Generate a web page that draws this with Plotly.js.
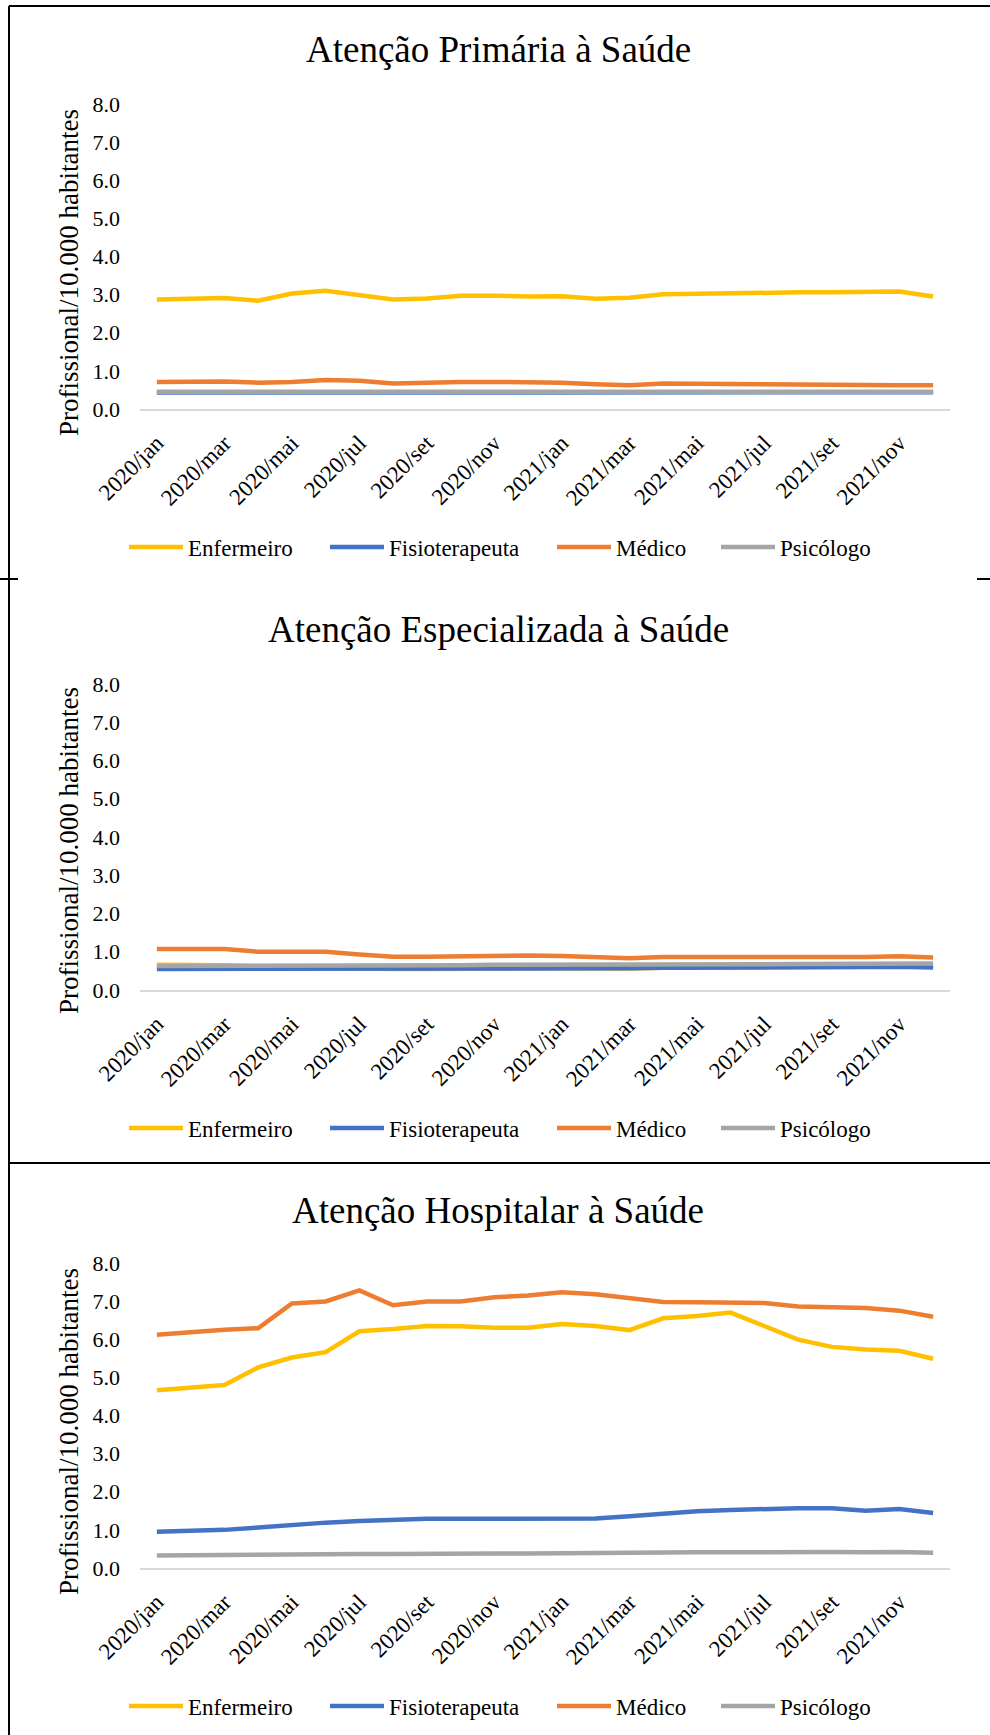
<!DOCTYPE html>
<html>
<head>
<meta charset="utf-8">
<script src="https://cdn.plot.ly/plotly-3.0.1.min.js"></script>
<style>
  html, body { margin: 0; padding: 0; background: #fff; }
  #chart { width: 990px; height: 1735px; }
</style>
</head>
<body>
<div id="chart"></div>
<script>
// ---- Data ----
const months = [
  "2020/jan","2020/fev","2020/mar","2020/abr","2020/mai","2020/jun",
  "2020/jul","2020/ago","2020/set","2020/out","2020/nov","2020/dez",
  "2021/jan","2021/fev","2021/mar","2021/abr","2021/mai","2021/jun",
  "2021/jul","2021/ago","2021/set","2021/out","2021/nov","2021/dez"
];
const tickLabels = ["2020/jan","2020/mar","2020/mai","2020/jul","2020/set","2020/nov",
                    "2021/jan","2021/mar","2021/mai","2021/jul","2021/set","2021/nov"];
const seriesNames = ["Enfermeiro", "Fisioterapeuta", "Médico", "Psicólogo"];
const seriesColors = ["#FFC000", "#4472C4", "#ED7D31", "#A5A5A5"];
const panelTitles = ["Atenção Primária à Saúde", "Atenção Especializada à Saúde", "Atenção Hospitalar à Saúde"];
const yAxisTitle = "Profissional/10.000 habitantes";

// Atenção Primária
const primEnfermeiro = [2.87,2.89,2.91,2.84,3.03,3.10,2.99,2.87,2.90,2.97,2.97,2.95,
                        2.96,2.89,2.92,3.01,3.02,3.04,3.04,3.06,3.06,3.07,3.08,2.95];
const primFisioterapeuta = [0.43,0.43,0.44,0.43,0.43,0.43,0.43,0.43,0.44,0.44,0.44,0.43,
                            0.42,0.42,0.42,0.43,0.43,0.43,0.44,0.44,0.44,0.43,0.44,0.44];
const primMedico = [0.71,0.72,0.72,0.69,0.71,0.76,0.74,0.67,0.70,0.71,0.71,0.70,
                    0.69,0.65,0.62,0.67,0.66,0.65,0.65,0.65,0.64,0.63,0.62,0.62];
const primPsicologo = [0.45,0.45,0.46,0.45,0.45,0.45,0.45,0.45,0.46,0.46,0.46,0.45,
                       0.44,0.44,0.44,0.45,0.45,0.45,0.46,0.46,0.46,0.45,0.46,0.45];

// Atenção Especializada
const espEnfermeiro = [0.66,0.66,0.65,0.62,0.60,0.59,0.57,0.55,0.55,0.56,0.57,0.57,
                       0.57,0.57,0.56,0.58,0.59,0.60,0.61,0.62,0.62,0.63,0.64,0.63];
const espFisioterapeuta = [0.55,0.55,0.55,0.55,0.55,0.55,0.56,0.56,0.56,0.57,0.57,0.57,
                           0.57,0.57,0.57,0.58,0.58,0.59,0.59,0.60,0.60,0.60,0.61,0.59];
const espMedico = [1.07,1.08,1.07,1.00,0.99,1.00,0.93,0.87,0.87,0.88,0.90,0.90,
                   0.89,0.87,0.83,0.86,0.86,0.85,0.86,0.86,0.86,0.86,0.88,0.85];
const espPsicologo = [0.63,0.63,0.63,0.63,0.63,0.63,0.64,0.64,0.64,0.65,0.66,0.66,
                      0.65,0.65,0.65,0.66,0.66,0.67,0.67,0.68,0.68,0.68,0.69,0.69];

// Atenção Hospitalar
const hospEnfermeiro = [4.66,4.72,4.80,5.26,5.52,5.66,6.21,6.27,6.35,6.34,6.30,6.30,
                        6.40,6.35,6.24,6.55,6.61,6.70,6.36,5.99,5.80,5.73,5.70,5.49];
const hospFisioterapeuta = [0.95,0.97,1.00,1.06,1.13,1.19,1.23,1.27,1.29,1.29,1.29,1.30,
                            1.30,1.30,1.36,1.42,1.49,1.52,1.55,1.57,1.57,1.50,1.55,1.44];
const hospMedico = [6.12,6.19,6.25,6.29,6.94,6.99,7.28,6.89,6.99,6.99,7.10,7.15,
                    7.23,7.18,7.08,6.98,6.97,6.96,6.95,6.86,6.83,6.82,6.75,6.59];
const hospPsicologo = [0.33,0.34,0.35,0.35,0.36,0.37,0.37,0.37,0.38,0.38,0.38,0.38,
                       0.39,0.39,0.40,0.40,0.41,0.41,0.42,0.42,0.42,0.41,0.42,0.40];

const panels = [
  [primEnfermeiro, primFisioterapeuta, primMedico, primPsicologo],
  [espEnfermeiro, espFisioterapeuta, espMedico, espPsicologo],
  [hospEnfermeiro, hospFisioterapeuta, hospMedico, hospPsicologo]
];

// ---- Layout geometry (pixels) ----
const W = 990, H = 1735;
const FONT = "Liberation Serif";
const plotLeft = 140, plotRight = 950;
const plotTops = [104, 684, 1263];
const plotBottoms = [409, 990, 1568];
const titleY = [50, 630, 1210];
const yTitleY = [273, 851, 1432];
const legendY = [547, 1128, 1706];
const legendX = [124, 325, 552, 716];

const px = x => x / W;
const py = y => 1 - y / H;

const traces = [];
const layout = {
  width: W, height: H,
  margin: { l: 0, r: 0, t: 0, b: 0 },
  showlegend: true,
  paper_bgcolor: "#fff",
  plot_bgcolor: "#fff",
  font: { family: FONT, color: "#000", size: 22 },
  annotations: [],
  shapes: [
    { type: "line", xref: "paper", yref: "paper", x0: px(9), x1: 1, y0: py(6), y1: py(6), line: { color: "#000", width: 2 } },
    { type: "line", xref: "paper", yref: "paper", x0: px(9), x1: px(9), y0: py(6), y1: 0, line: { color: "#000", width: 2 } },
    { type: "line", xref: "paper", yref: "paper", x0: 0, x1: px(18), y0: py(579), y1: py(579), line: { color: "#000", width: 2 } },
    { type: "line", xref: "paper", yref: "paper", x0: px(977), x1: 1, y0: py(579), y1: py(579), line: { color: "#000", width: 2 } },
    { type: "line", xref: "paper", yref: "paper", x0: px(9), x1: 1, y0: py(1163), y1: py(1163), line: { color: "#000", width: 2 } }
  ]
};

panels.forEach((series, p) => {
  const sfx = p === 0 ? "" : String(p + 1);
  series.forEach((vals, s) => {
    const li = p * 4 + s;
    const legName = li === 0 ? "legend" : "legend" + (li + 1);
    traces.push({
      type: "scatter", mode: "lines", x: months, y: vals, name: seriesNames[s],
      xaxis: "x" + sfx, yaxis: "y" + sfx, legend: legName, showlegend: true,
      line: { color: seriesColors[s], width: 4.5 }, hoverinfo: "skip"
    });
    layout[legName] = {
      orientation: "h", x: px(legendX[s]), y: py(legendY[p]),
      xanchor: "left", yanchor: "middle", bgcolor: "rgba(0,0,0,0)",
      itemwidth: 54, font: { family: FONT, size: 23, color: "#000" }
    };
  });
  layout["xaxis" + sfx] = {
    type: "category", domain: [px(plotLeft), px(plotRight)],
    range: [-0.5, months.length - 0.5], anchor: "y" + sfx,
    tickmode: "array", tickvals: tickLabels, ticktext: tickLabels,
    tickangle: -45, ticks: "", ticklabelstandoff: 10,
    showgrid: false, zeroline: false, showline: true, linecolor: "#D9D9D9", linewidth: 1.5,
    tickfont: { family: FONT, size: 23, color: "#000" }, fixedrange: true
  };
  layout["yaxis" + sfx] = {
    domain: [py(plotBottoms[p]), py(plotTops[p])], anchor: "x" + sfx,
    range: [0, 8], tickmode: "linear", tick0: 0, dtick: 1, tickformat: ".1f",
    ticks: "", ticklabelstandoff: 19, showgrid: false, zeroline: false, showline: false,
    tickfont: { family: FONT, size: 22, color: "#000" }, fixedrange: true
  };
  layout.annotations.push({
    xref: "paper", yref: "paper", x: px(498), y: py(titleY[p]),
    xanchor: "center", yanchor: "middle", showarrow: false,
    text: panelTitles[p], font: { family: FONT, size: 37, color: "#000" }
  });
  layout.annotations.push({
    xref: "paper", yref: "paper", x: px(69), y: py(yTitleY[p]),
    xanchor: "center", yanchor: "middle", showarrow: false, textangle: -90,
    text: yAxisTitle, font: { family: FONT, size: 27, color: "#000" }
  });
});

Plotly.newPlot("chart", traces, layout, { displayModeBar: false, staticPlot: true });
</script>
</body>
</html>
